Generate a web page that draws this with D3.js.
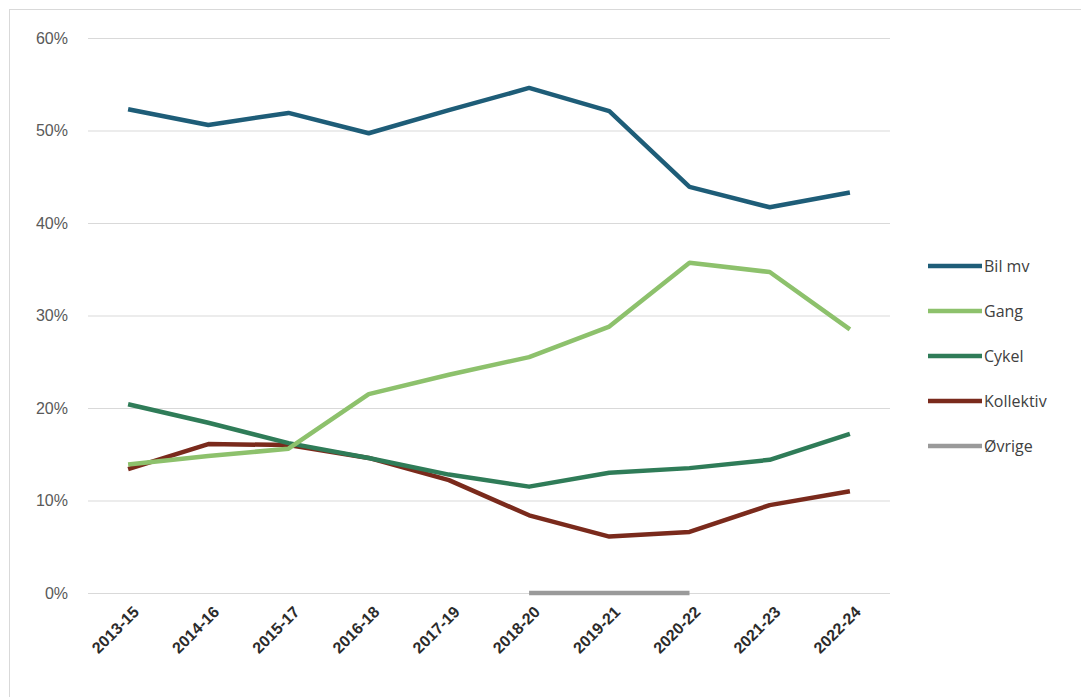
<!DOCTYPE html>
<html>
<head>
<meta charset="utf-8">
<script src="https://cdn.jsdelivr.net/npm/d3@7"></script>
<style>
  body { margin: 0; background: #fff; }
  svg { display: block; font-family: "Open Sans", "Noto Sans", sans-serif; }
</style>
</head>
<body>
<div id="chart"></div>
<script>
// Chart data
const periods = ["2013-15", "2014-16", "2015-17", "2016-18", "2017-19",
                 "2018-20", "2019-21", "2020-22", "2021-23", "2022-24"];
const bilMv     = [52.3, 50.6, 51.9, 49.7, 52.2, 54.6, 52.1, 43.9, 41.7, 43.3];
const gang      = [13.9, 14.8, 15.6, 21.5, 23.6, 25.5, 28.8, 35.7, 34.7, 28.5];
const cykel     = [20.4, 18.4, 16.2, 14.6, 12.8, 11.5, 13.0, 13.5, 14.4, 17.2];
const kollektiv = [13.4, 16.1, 16.0, 14.6, 12.2, 8.4, 6.1, 6.6, 9.5, 11.0];
const ovrige    = [null, null, null, null, null, 0, 0, 0, null, null];
const yTicks = [0, 10, 20, 30, 40, 50, 60];

const series = [
  { name: "Bil mv",    values: bilMv,     color: "#1e5d78" },
  { name: "Gang",      values: gang,      color: "#8dc16c" },
  { name: "Cykel",     values: cykel,     color: "#2f7c58" },
  { name: "Kollektiv", values: kollektiv, color: "#7a2a1c" },
  { name: "Øvrige",    values: ovrige,    color: "#9a9a9a" }
];

const W = 1081, H = 697;
const plot = { left: 88, right: 890, top: 38, bottom: 593 };

const svg = d3.select("#chart").append("svg")
    .attr("width", W)
    .attr("height", H);

// outer chart frame
svg.append("rect")
    .attr("x", 9.5).attr("y", 9.5)
    .attr("width", W + 10).attr("height", H + 10)
    .attr("fill", "#fff")
    .attr("stroke", "#d9d9d9");

const x = d3.scaleBand()
    .domain(periods)
    .range([plot.left, plot.right]);

const y = d3.scaleLinear()
    .domain([0, 60])
    .range([plot.bottom, plot.top]);

const cx = d => x(d) + x.bandwidth() / 2;

// gridlines + y labels
const yAxis = svg.append("g")
    .attr("transform", `translate(${plot.left},0)`)
    .call(d3.axisLeft(y).tickValues(yTicks).tickSize(-(plot.right - plot.left))
        .tickFormat(d => d + "%").tickPadding(20));
yAxis.select(".domain").remove();
yAxis.selectAll(".tick line").attr("stroke", "#d9d9d9").attr("stroke-width", 1.2);
yAxis.selectAll(".tick text")
    .attr("fill", "#595959")
    .style("font-size", "16px");

// x labels
const xAxis = svg.append("g")
    .attr("transform", `translate(0,${plot.bottom})`)
    .call(d3.axisBottom(x).tickSize(0).tickPadding(0));
xAxis.select(".domain").remove();
xAxis.selectAll(".tick text")
    .attr("fill", "#2b2b2b")
    .style("font-size", "16px")
    .style("font-weight", "bold")
    .attr("text-anchor", "end")
    .attr("dy", "0.35em")
    .attr("transform", "translate(8,16) rotate(-45)");

// lines
const line = d3.line()
    .defined(d => d.v !== null)
    .x(d => cx(d.p))
    .y(d => y(d.v));

svg.append("g").selectAll("path")
    .data(series.slice().reverse())
    .join("path")
    .attr("fill", "none")
    .attr("stroke", d => d.color)
    .attr("stroke-width", 4.5)
    .attr("stroke-linejoin", "round")
    .attr("d", d => line(d.values.map((v, i) => ({ p: periods[i], v }))));

// legend
const legend = svg.append("g")
    .selectAll("g")
    .data(series)
    .join("g")
    .attr("transform", (d, i) => `translate(928,${266 + i * 45})`);

legend.append("line")
    .attr("x1", 0).attr("x2", 54)
    .attr("stroke", d => d.color)
    .attr("stroke-width", 4.5);

legend.append("text")
    .attr("x", 56)
    .attr("dy", "0.35em")
    .attr("fill", "#404040")
    .style("font-size", "16px")
    .text(d => d.name);
</script>
</body>
</html>
